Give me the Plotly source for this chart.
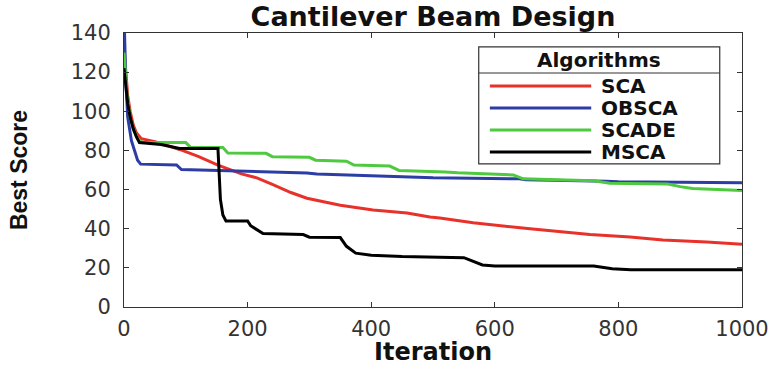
import plotly.graph_objects as go

# ---- data ----
names = ["SCA", "OBSCA", "SCADE", "MSCA"]
colors = ["#e8312b", "#2c3ea6", "#4fc93f", "#000000"]

sca_x = [0, 3, 6, 10, 15, 20, 28, 50, 90, 120, 152, 190, 215, 241, 270, 296, 350, 403, 458, 495, 511, 565, 600, 657, 754, 819, 872, 943, 1000]
sca_y = [132, 118, 108, 100, 93, 89, 86, 84.5, 80.5, 77, 72.5, 68, 66, 62.5, 58.5, 55.6, 52, 49.6, 48, 46, 45.5, 43, 42, 40, 37, 35.8, 34.2, 33.2, 32]

obsca_x = [0, 3, 6, 12, 17, 22, 27, 85, 93, 200, 296, 312, 480, 500, 640, 650, 780, 800, 1000]
obsca_y = [150, 115, 97, 85, 80, 75, 73, 72.6, 70.2, 69.5, 68.5, 68, 66.5, 66, 65.5, 65, 64.3, 64, 63.5]

scade_x = [0, 2, 5, 10, 15, 22, 30, 100, 108, 160, 168, 230, 240, 300, 310, 360, 372, 430, 445, 520, 540, 630, 646, 700, 760, 786, 880, 900, 920, 1000]
scade_y = [130, 120, 108, 97, 91, 86, 84, 84, 81.5, 81.5, 78.7, 78.5, 76.8, 76.5, 75, 74.5, 72.5, 72, 69.8, 69, 68.6, 67.5, 65.5, 65, 64.5, 63.2, 62.8, 61.5, 60.5, 59.5]

msca_x = [0, 3, 6, 10, 15, 20, 25, 60, 90, 152, 154, 156, 160, 165, 200, 205, 225, 290, 300, 350, 360, 375, 400, 450, 550, 560, 580, 600, 760, 790, 820, 1000]
msca_y = [122, 112, 104, 97, 91, 87, 84, 83, 81, 81, 70, 55, 47, 44, 44, 41.5, 37.5, 37, 35.7, 35.5, 31, 27.5, 26.5, 25.8, 25.2, 24, 21.5, 21, 21, 19.5, 19, 19]

xs = [sca_x, obsca_x, scade_x, msca_x]
ys = [sca_y, obsca_y, scade_y, msca_y]

x_ticks = [0, 200, 400, 600, 800, 1000]
y_ticks = [0, 20, 40, 60, 80, 100, 120, 140]

fig = go.Figure()
for n, c, x, y in zip(names, colors, xs, ys):
    fig.add_trace(go.Scatter(x=x, y=y, mode="lines", name=n,
                             line=dict(color=c, width=3), showlegend=False))

TICKFONT = dict(family="DejaVu Sans", size=21, color="#333333")
axis_common = dict(showline=True, linecolor="#333333", linewidth=1, mirror="ticks",
                   ticks="inside", ticklen=5, tickcolor="#333333", showgrid=False,
                   zeroline=False, tickfont=TICKFONT, automargin=False)

fig.update_xaxes(range=[0, 1000], tickvals=x_ticks, ticklabelstandoff=3,
                 title=dict(text="Iteration", font=dict(family="DejaVu Sans", size=24, color="#111", weight="bold"), standoff=6),
                 **axis_common)
fig.update_yaxes(range=[0, 140], tickvals=y_ticks, ticklabelstandoff=8,
                 title=dict(text="Best Score", font=dict(family="Liberation Sans", size=23, color="#111", weight="bold"), standoff=36),
                 **axis_common)

# ---- custom legend (MATLAB style, titled box) ----
bx0, bx1, by0, by1 = 0.574, 0.964, 0.522, 0.949
fig.add_shape(type="rect", xref="paper", yref="paper", x0=bx0, x1=bx1, y0=by0, y1=by1,
              line=dict(color="#333333", width=1.2), fillcolor="white", layer="above")
fig.add_shape(type="line", xref="paper", yref="paper", x0=bx0, x1=bx1, y0=0.854, y1=0.854,
              line=dict(color="#333333", width=1.2), layer="above")
fig.add_annotation(xref="paper", yref="paper", x=(bx0 + bx1) / 2, y=0.901, text="<b>Algorithms</b>",
                   showarrow=False, font=dict(family="DejaVu Sans", size=20, color="#111"),
                   xanchor="center", yanchor="middle")
row_y = [0.807, 0.726, 0.646, 0.566]
for n, c, ry in zip(names, colors, row_y):
    fig.add_shape(type="line", xref="paper", yref="paper", x0=0.592, x1=0.756, y0=ry, y1=ry,
                  line=dict(color=c, width=3), layer="above")
    fig.add_annotation(xref="paper", yref="paper", x=0.768, y=ry, text="<b>%s</b>" % n,
                       showarrow=False, font=dict(family="DejaVu Sans", size=20, color="#111"),
                       xanchor="left", yanchor="middle")

fig.update_layout(
    width=778, height=366,
    margin=dict(l=124, r=36, t=33, b=59),
    paper_bgcolor="white", plot_bgcolor="white",
    title=dict(text="<b>Cantilever Beam Design</b>", x=0.5, xref="paper", xanchor="center",
               y=0.955, yref="container", yanchor="middle",
               font=dict(family="DejaVu Sans", size=27, color="#111")),
)

fig.write_html("out.html", config={"displayModeBar": False},
               post_script="document.body.style.margin='0';document.body.style.overflow='hidden';")
